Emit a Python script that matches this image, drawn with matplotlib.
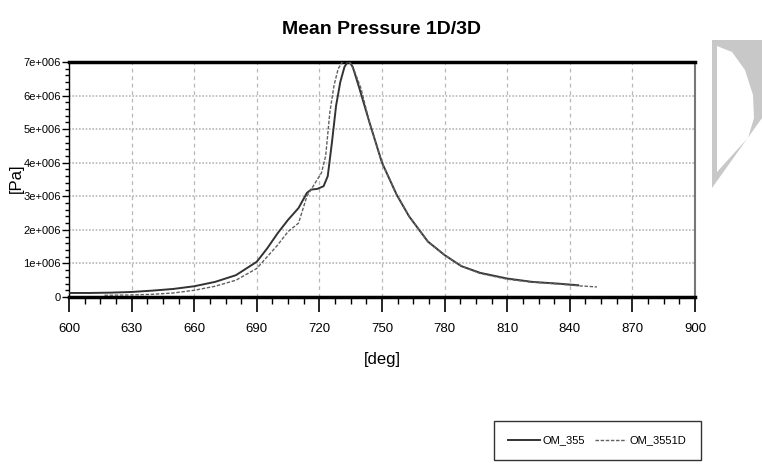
import matplotlib
matplotlib.use("Agg")
import matplotlib.pyplot as plt
from matplotlib.patches import Polygon
from matplotlib.ticker import MultipleLocator, FuncFormatter

plt.rcParams["font.family"] = ["Liberation Sans Narrow", "Liberation Sans", "DejaVu Sans"]

# OM_355 (solid)
deg_355 = [600, 610, 620, 630, 640, 650, 660, 670, 680, 690, 695, 700, 705, 710,
           714, 716, 719, 722, 724, 726, 728, 730, 732, 734, 736, 739, 744, 750,
           757, 763, 772, 780, 788, 797, 810, 822, 834, 844]
p_355 = [0.12, 0.12, 0.13, 0.15, 0.19, 0.24, 0.32, 0.45, 0.65, 1.05, 1.45, 1.9,
         2.3, 2.65, 3.1, 3.2, 3.22, 3.3, 3.6, 4.6, 5.7, 6.4, 6.85, 7.05, 6.85,
         6.25, 5.2, 4.0, 3.05, 2.4, 1.65, 1.25, 0.92, 0.72, 0.55, 0.45, 0.4, 0.35]

# OM_3551D (dashed)
deg_1d = [617, 630, 640, 650, 660, 670, 680, 690, 700, 705, 710, 714, 718, 721,
          723, 725, 727, 729, 731, 733, 735, 737, 740, 744, 750, 757, 763, 772,
          780, 788, 797, 810, 822, 834, 845, 853]
p_1d = [0.05, 0.06, 0.08, 0.12, 0.2, 0.32, 0.5, 0.85, 1.55, 1.95, 2.2, 3.0, 3.4,
        3.7, 4.2, 5.5, 6.3, 6.8, 7.0, 7.05, 6.95, 6.7, 6.2, 5.2, 4.0, 3.05, 2.4,
        1.65, 1.25, 0.92, 0.7, 0.53, 0.44, 0.39, 0.33, 0.3]

W, H = 762, 466


def px(x, y):
    # pixel (top-left origin) -> figure fraction
    return (x / W, 1 - y / H)


fig = plt.figure(figsize=(W / 100, H / 100), dpi=100)
ax = fig.add_axes([69 / W, 1 - 297 / H, (695 - 69) / W, (297 - 62) / H])

ax.plot(deg_355, [v * 1e6 for v in p_355], color="#333333", lw=1.4, label="OM_355", zorder=3)
ax.plot(deg_1d, [v * 1e6 for v in p_1d], color="#606060", lw=1.0,
        linestyle=(0, (2.5, 1.2)), label="OM_3551D", zorder=3)

ax.set_xlim(600, 900)
ax.set_ylim(0, 7e6)
ax.xaxis.set_major_locator(MultipleLocator(30))
ax.xaxis.set_minor_locator(MultipleLocator(7.5))
ax.yaxis.set_major_locator(MultipleLocator(1e6))
ax.yaxis.set_minor_locator(MultipleLocator(2e5))


def sci(v, pos):
    if v == 0:
        return "0"
    return f"{int(round(v / 1e6))}e+006"


ax.yaxis.set_major_formatter(FuncFormatter(sci))
ax.tick_params(axis="x", which="major", length=11, width=1.2, labelsize=9.5, pad=8)
ax.tick_params(axis="x", which="minor", length=5, width=1)
ax.tick_params(axis="y", which="major", length=5, width=1, labelsize=8, pad=1)
ax.tick_params(axis="y", which="minor", length=3, width=1)

ax.grid(axis="x", which="major", color="#b8b8b8", linestyle=(0, (3, 3)), lw=0.9)
ax.grid(axis="y", which="major", color="#b8b8b8", linestyle=(0, (1, 1)), lw=1.2)
ax.set_axisbelow(True)

ax.spines["top"].set_linewidth(2.5)
ax.spines["bottom"].set_linewidth(2.5)
ax.spines["left"].set_linewidth(1.0)
ax.spines["right"].set_color("#777777")
ax.spines["right"].set_linewidth(1.5)

ax.set_xlabel("[deg]", fontsize=12, labelpad=12)
fig.text(16 / W, 1 - 178 / H, "[Pa]", rotation=90, ha="center", va="center", fontsize=12)
fig.text(381 / W, 1 - 30 / H, "Mean Pressure 1D/3D", ha="center", va="center",
         fontsize=14, fontweight="bold")

fig.legend(loc="upper right", bbox_to_anchor=px(701, 421), ncol=2, frameon=True,
           fancybox=False, edgecolor="black", fontsize=8, handlelength=2.8,
           columnspacing=0.9, handletextpad=0.3, borderpad=1.3, borderaxespad=0)

# grey watermark shape at the right edge
outer = Polygon([px(712, 40), px(762, 40), px(762, 118), px(712, 188)],
                closed=True, transform=fig.transFigure, facecolor="#c8c8c8",
                edgecolor="none")
inner = Polygon([px(717, 46), px(732, 52), px(745, 70), px(753, 95), px(754, 118),
                 px(748, 138), px(735, 152), px(717, 172)],
                closed=True, transform=fig.transFigure, facecolor="white",
                edgecolor="none")
fig.patches.extend([outer, inner])

fig.savefig("out.png", dpi=100)
